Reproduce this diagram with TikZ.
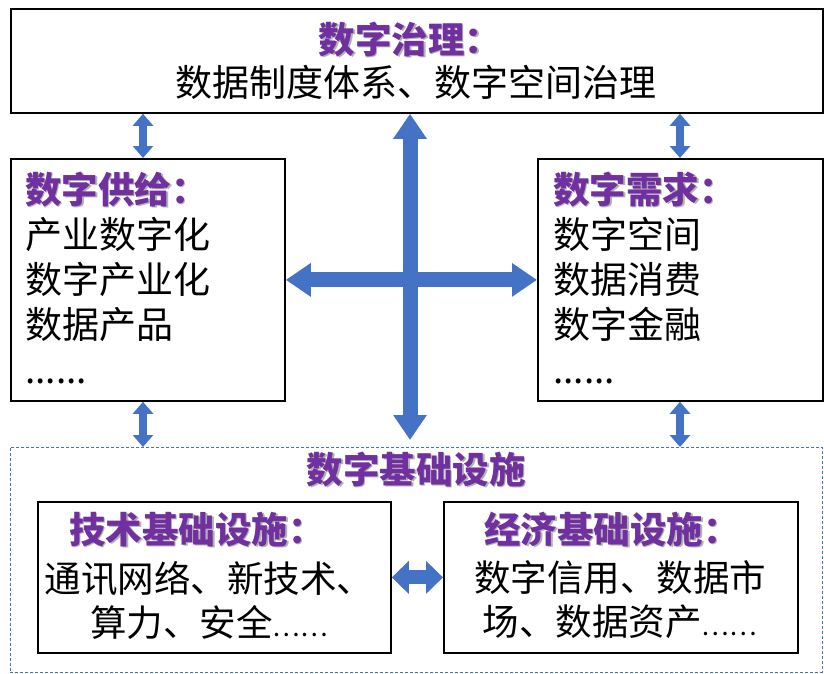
\documentclass[tikz,border=0pt]{standalone}
\usepackage{fontspec}
\setmainfont{Noto Sans CJK SC}
\usetikzlibrary{arrows.meta}
\definecolor{purp}{HTML}{7030A0}
\definecolor{arr}{HTML}{4472C4}
\newcommand\shtitle[1]{\makebox[0pt][l]{\hspace{1.5pt}\raisebox{-1.5pt}{\color{black!30}#1}}#1}
\newcommand\smalldots{{\fontsize{26}{26}\selectfont ……}}
\tikzset{
  box/.style={draw, line width=1.8pt, inner sep=0pt, anchor=north west},
  titletext/.style={font=\fontsize{36.5}{40}\selectfont\bfseries, text=purp, inner sep=0pt},
  body/.style={font=\fontsize{37}{45}\selectfont, align=left, inner sep=0pt},
  ibody/.style={font=\fontsize{36.5}{44}\selectfont, align=center, inner sep=0pt},
  bigarrow/.style={draw=arr, line width=15pt, {Triangle[width=32pt,length=25pt]}-{Triangle[width=32pt,length=25pt]}},
  smallarrow/.style={draw=arr, line width=8pt, {Triangle[width=20pt,length=12pt]}-{Triangle[width=20pt,length=12pt]}},
  midarrow/.style={draw=arr, line width=14pt, {Triangle[width=32pt,length=17pt]}-{Triangle[width=32pt,length=17pt]}}
}
\begin{document}
\begin{tikzpicture}[x=1pt,y=-1pt]
\useasboundingbox (0,0) rectangle (824,674);
% boxes
\node[box, minimum width=812pt, minimum height=104pt] (gov) at (10,8) {};
\node[box, minimum width=274pt, minimum height=242pt] (sup) at (10,158) {};
\node[box, minimum width=285pt, minimum height=242pt] (dem) at (537,158) {};
\node[draw=arr, line width=0.8pt, dash pattern=on 3pt off 2pt, inner sep=0pt, anchor=north west, minimum width=812pt, minimum height=225pt] (infra) at (10,447) {};
\node[box, minimum width=353pt, minimum height=151pt] (il) at (37,501) {};
\node[box, minimum width=354pt, minimum height=151pt] (ir) at (443,501) {};
% texts
\node[titletext] (govt) at (410,40) {\shtitle{数字治理：}};
\node[body] (govb) at (416,82) {数据制度体系、数字空间治理};
\node[titletext, anchor=west] (supt) at (25,190) {\shtitle{数字供给：}};
\node[body, anchor=north west] (supb) at (25,217) {产业数字化\\数字产业化\\数据产品\\......};
\node[titletext, anchor=west] (demt) at (553,190) {\shtitle{数字需求：}};
\node[body, anchor=north west] (demb) at (553,217) {数字空间\\数据消费\\数字金融\\......};
\node[titletext] (inft) at (416,470) {\shtitle{数字基础设施}};
\node[titletext] (ilt) at (197,530) {\shtitle{技术基础设施：}};
\node[ibody] (ilb) at (209,600) {通讯网络、新技术、\\算力、安全\smalldots};
\node[titletext] (irt) at (612,530) {\shtitle{经济基础设施：}};
\node[ibody] (irb) at (620,600) {数字信用、数据市\\场、数据资产\smalldots};
% arrows
\coordinate (cb) at (410,440);
\draw[bigarrow] (sup.east) -- (dem.west);
\draw[bigarrow] (gov.south -| cb) -- (cb);
\coordinate (s1) at (143,0);
\coordinate (s2) at (680,0);
\draw[smallarrow] (gov.south -| s1) -- (sup.north -| s1);
\draw[smallarrow] (gov.south -| s2) -- (dem.north -| s2);
\draw[smallarrow] (sup.south -| s1) -- (infra.north -| s1);
\draw[smallarrow] (dem.south -| s2) -- (infra.north -| s2);
\draw[midarrow] (il.east) -- (ir.west);
\end{tikzpicture}
\end{document}
